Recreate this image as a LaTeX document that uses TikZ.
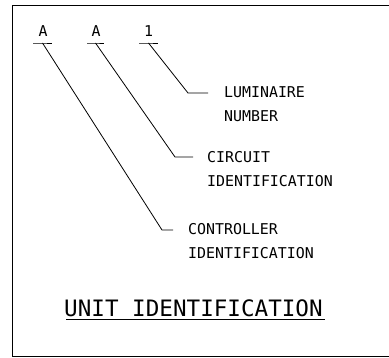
\documentclass[tikz,border=0pt]{standalone}
\usepackage{fontspec}
\newfontfamily\cadfont{DejaVu Sans Mono}
\begin{document}
\begin{tikzpicture}[x=1pt,y=-1pt,
  lbl/.style={font=\cadfont\fontsize{14.9}{24}\selectfont, inner sep=0pt, align=left},
  ttl/.style={font=\cadfont\fontsize{22.6}{26}\selectfont, inner sep=0pt},
  lead/.style={line width=0.8pt, black}]
\useasboundingbox (0,0) rectangle (389,358);
% frame
\draw[line width=1pt] (392,6) -- (12,6) -- (12,357) -- (392,357);
% code characters
\node[lbl] (ca) at (43,31) {A};
\node[lbl] (cb) at (96,31) {A};
\node[lbl] (cc) at (148.5,31) {1};
\coordinate (ua) at (42.5,43);
\coordinate (ub) at (95.5,43);
\coordinate (uc) at (148.5,43);
\draw[lead] (33,43) -- (ua) -- (52,43);
\draw[lead] (87,43) -- (ub) -- (104,43);
\draw[lead] (139,43) -- (uc) -- (158,43);
% labels
\node[lbl, anchor=west] (lum) at (224,104.5) {LUMINAIRE\\NUMBER};
\node[lbl, anchor=west] (cir) at (207,169.5) {CIRCUIT\\IDENTIFICATION};
\node[lbl, anchor=west] (ctl) at (188,241.5) {CONTROLLER\\IDENTIFICATION};
% leaders
\coordinate (ka) at (162,230);
\coordinate (ea) at (173,230);
\coordinate (kb) at (175,157);
\coordinate (eb) at (193,157);
\coordinate (kc) at (188,93);
\coordinate (ec) at (208,93);
\draw[lead] (ua) -- (ka) -- (ea);
\draw[lead] (ub) -- (kb) -- (eb);
\draw[lead] (uc) -- (kc) -- (ec);
% title
\node[ttl, anchor=west] (title) at (64,308) {UNIT IDENTIFICATION};
\draw[lead] (66,319) -- (325,319);
\end{tikzpicture}
\end{document}
